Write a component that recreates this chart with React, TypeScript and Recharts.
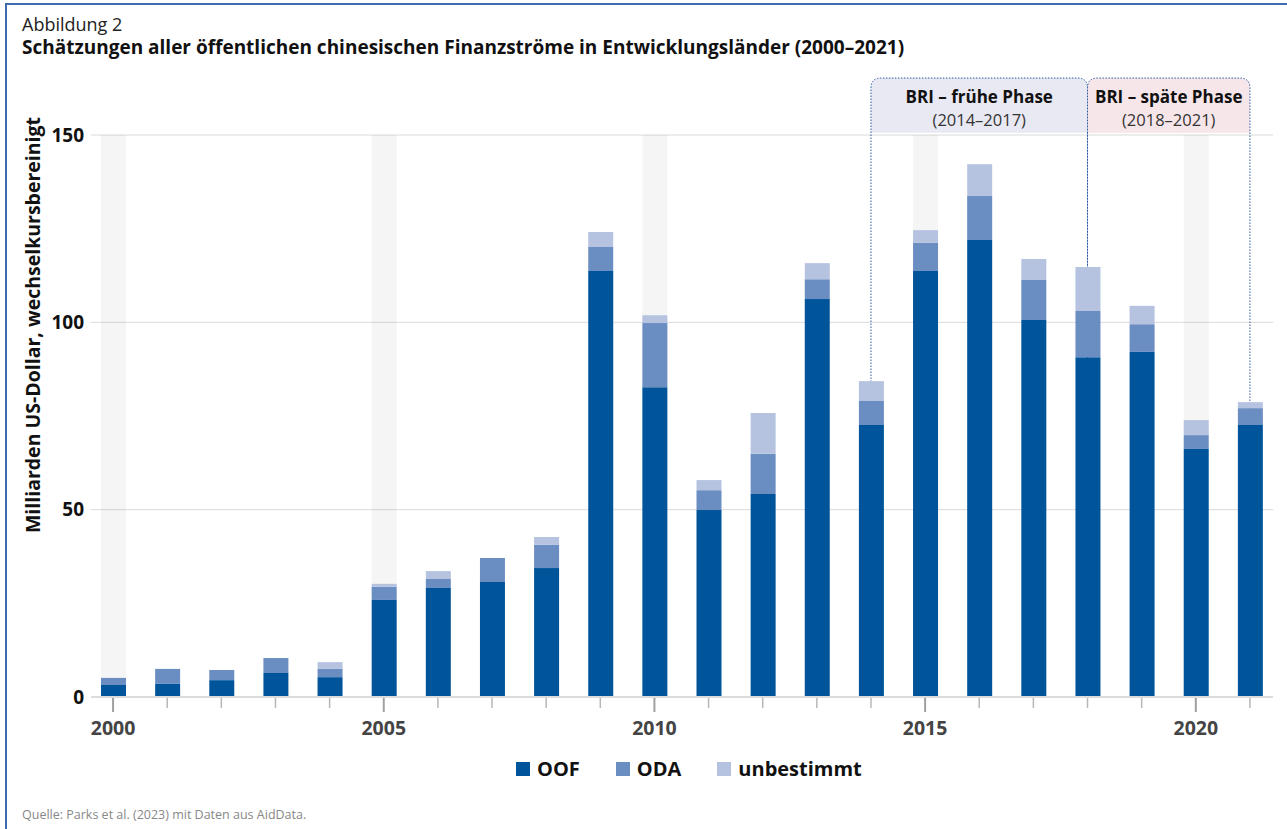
import React from 'react';
import { BarChart, Bar, XAxis, YAxis, CartesianGrid, ReferenceArea, Label } from 'recharts';

const years = [
  '2000', '2001', '2002', '2003', '2004', '2005', '2006', '2007', '2008', '2009', '2010',
  '2011', '2012', '2013', '2014', '2015', '2016', '2017', '2018', '2019', '2020', '2021',
];
const oof = [3.2, 3.5, 4.5, 6.4, 5.3, 25.9, 29.1, 30.7, 34.4, 113.7, 82.7, 49.9, 54.2, 106.2, 72.6, 113.7, 122.0, 100.6, 90.7, 92.1, 66.2, 72.6];
const oda = [1.9, 4.0, 2.7, 4.0, 2.2, 3.5, 2.4, 6.4, 6.2, 6.4, 17.1, 5.3, 10.7, 5.3, 6.4, 7.5, 11.7, 10.7, 12.3, 7.4, 3.7, 4.5];
const unbestimmt = [0, 0, 0, 0, 1.8, 0.8, 2.1, 0, 2.1, 4.0, 2.1, 2.7, 10.9, 4.3, 5.3, 3.4, 8.5, 5.6, 11.8, 4.9, 4.0, 1.6];

const yTicks = [0, 50, 100, 150];
const labelledYears = ['2000', '2005', '2010', '2015', '2020'];
const seriesKeys = ['oof', 'oda', 'unb'];
const seriesNames = ['OOF', 'ODA', 'unbestimmt'];
const seriesColors = ['#00559a', '#6a8dc2', '#b5c3e1'];

const phases = [
  { from: '2014', to: '2018', title: 'BRI – frühe Phase', range: '(2014–2017)', fill: '#e9e9f3' },
  { from: '2018', to: '2021', title: 'BRI – späte Phase', range: '(2018–2021)', fill: '#f7e6e9' },
];
const BOX_TOP = 165.2;
const BOX_FILL_BOTTOM = 150.6;

const data = years.map((year, i) => ({ year, oof: oof[i], oda: oda[i], unb: unbestimmt[i] }));

const FONT = '"Open Sans", sans-serif';

const makePhaseShape = (phase: typeof phases[number]) => (props: any) => {
  const { x, y, width, height } = props;
  const bands = years.indexOf(phase.to) - years.indexOf(phase.from) + 1;
  const half = width / bands / 2;
  const left = x + half;
  const right = x + width - half;
  const top = y;
  const bottom = y + height;
  const fillBottom = y + (height * (BOX_TOP - BOX_FILL_BOTTOM)) / BOX_TOP;
  const r = 10;
  const cx = (left + right) / 2;
  const topEdge = `L${left},${top + r} Q${left},${top} ${left + r},${top} L${right - r},${top} Q${right},${top} ${right},${top + r}`;
  return (
    <g>
      <path d={`M${left},${fillBottom} ${topEdge} L${right},${fillBottom} Z`} fill={phase.fill} />
      <path
        d={`M${left},${bottom} ${topEdge} L${right},${bottom} Z`}
        fill="none"
        stroke="#2b5aa0"
        strokeWidth={1}
        strokeDasharray="1.5 1.5"
      />
      <text x={cx} y={top + 25} textAnchor="middle" fontFamily={FONT} fontSize={17} fontWeight="bold" fill="#111">
        {phase.title}
      </text>
      <text x={cx} y={top + 48} textAnchor="middle" fontFamily={FONT} fontSize={16.5} fill="#333">
        {phase.range}
      </text>
    </g>
  );
};

const YearTick = (props: any) => {
  const { x, y, payload } = props;
  const major = labelledYears.includes(payload.value);
  return (
    <g>
      <line x1={x} x2={x} y1={y + 1} y2={y + (major ? 15 : 11)} stroke={major ? '#a0a0a0' : '#b8b8b8'} strokeWidth={major ? 2 : 1.5} />
      {major && (
        <text x={x} y={y + 38} textAnchor="middle" fontFamily={FONT} fontSize={19.5} fontWeight="bold" fill="#444">
          {payload.value}
        </text>
      )}
    </g>
  );
};

const Stripe = (props: any) => {
  const { x, y, width, height, index } = props;
  if (!labelledYears.includes(years[index])) return null;
  return <rect x={x} y={y} width={width} height={height} fill="#000" fillOpacity={0.04} />;
};

export default function App() {
  return (
    <div style={{ position: 'absolute', left: 0, top: 0, width: 1287, height: 829, background: '#fff', fontFamily: FONT }}>
      <div
        style={{
          position: 'absolute', left: 5, top: 3, right: 0, bottom: 0,
          borderTop: '2px solid #4169ad', borderLeft: '2px solid #4169ad',
        }}
      />
      <div style={{ position: 'absolute', left: 22, top: 12, fontSize: 18, color: '#222' }}>Abbildung 2</div>
      <div style={{ position: 'absolute', left: 22, top: 34, fontSize: 19, fontWeight: 'bold', color: '#111' }}>
        Schätzungen aller öffentlichen chinesischen Finanzströme in Entwicklungsländer (2000–2021)
      </div>
      <div style={{ position: 'absolute', left: 0, top: 0 }}>
        <BarChart width={1287} height={829} data={data} margin={{ top: 135, right: 14, bottom: 72, left: 0 }} barSize={25}>
          <CartesianGrid vertical={false} stroke="#dadada" />
          <XAxis
            dataKey="year"
            interval={0}
            height={60}
            padding={{ left: -5, right: -4 }}
            tickSize={0}
            tickMargin={0}
            tickLine={false}
            axisLine={{ stroke: '#dcdcdc', strokeWidth: 2 }}
            tick={<YearTick />}
          />
          <YAxis
            domain={[0, 150]}
            ticks={yTicks}
            width={91}
            tickSize={0}
            tickMargin={7}
            axisLine={false}
            tickLine={false}
            tick={{ fontFamily: FONT, fontSize: 19, fontWeight: 'bold', fill: '#111' }}
          >
            <Label
              content={() => (
                <text
                  transform="translate(40,325) rotate(-90)"
                  textAnchor="middle"
                  fontFamily={FONT}
                  fontSize={19.5}
                  fontWeight="bold"
                  fill="#111"
                >
                  Milliarden US-Dollar, wechselkursbereinigt
                </text>
              )}
            />
          </YAxis>
          {phases.map((p) => (
            <ReferenceArea
              key={p.from}
              x1={p.from}
              x2={p.to}
              y1={0}
              y2={BOX_TOP}
              ifOverflow="visible"
              shape={makePhaseShape(p)}
            />
          ))}
          {seriesKeys.map((k, i) => (
            <Bar
              key={k}
              dataKey={k}
              name={seriesNames[i]}
              stackId="a"
              fill={seriesColors[i]}
              isAnimationActive={false}
              background={i === 0 ? (props: any) => <Stripe {...props} /> : undefined}
            />
          ))}
        </BarChart>
      </div>
      <div
        style={{
          position: 'absolute', left: 516, top: 755, display: 'flex', gap: 36,
        }}
      >
        {seriesNames.map((n, i) => (
          <div key={n} style={{ display: 'flex', alignItems: 'center', gap: 7 }}>
            <span style={{ width: 14, height: 14, background: seriesColors[i], display: 'inline-block' }} />
            <span style={{ fontSize: 20, fontWeight: 'bold', color: '#111' }}>{n}</span>
          </div>
        ))}
      </div>
      <div style={{ position: 'absolute', left: 22, top: 806, fontSize: 12.5, color: '#888' }}>
        Quelle: Parks et al. (2023) mit Daten aus AidData.
      </div>
    </div>
  );
}
